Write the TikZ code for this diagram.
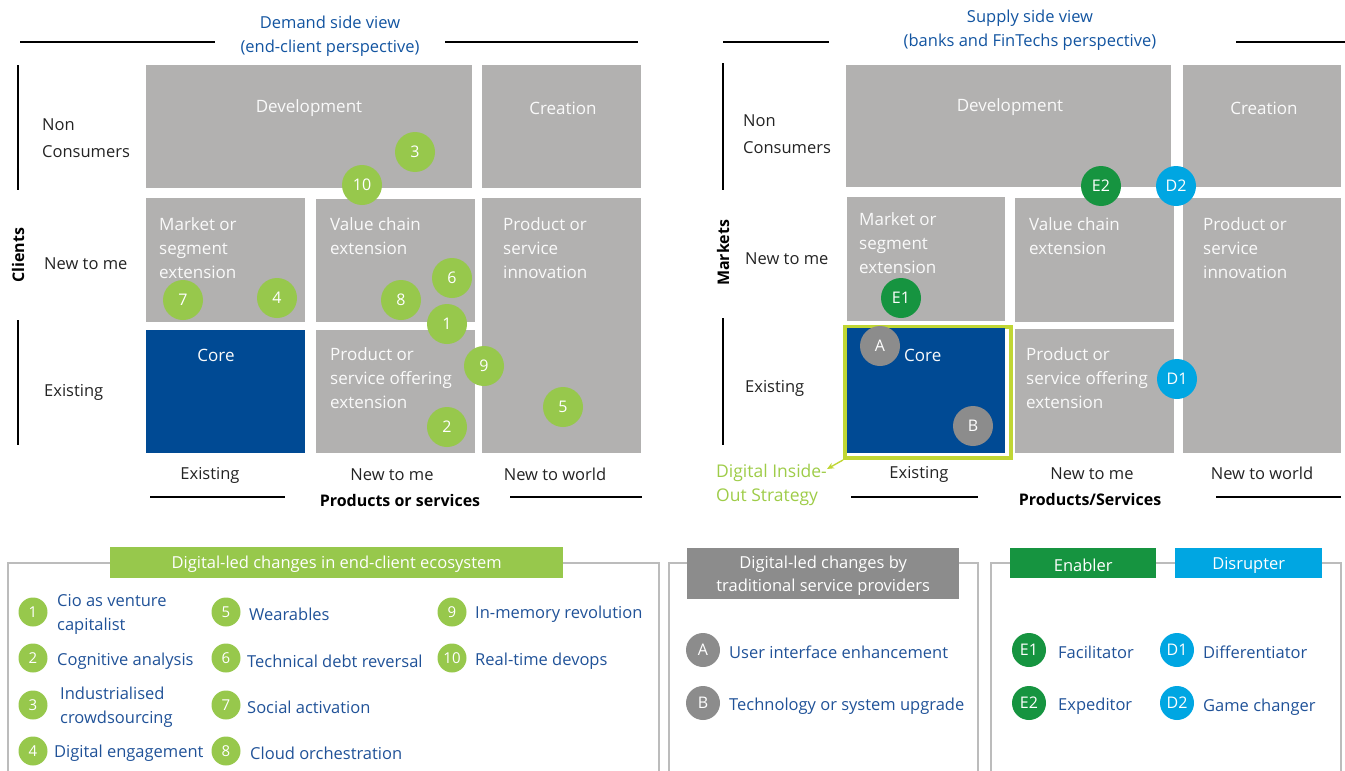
\documentclass[tikz,border=0pt]{standalone}
\usepackage{fontspec}
\setmainfont{Open Sans}
\usetikzlibrary{arrows.meta}
\definecolor{boxgray}{RGB}{178,177,176}
\definecolor{coreblue}{RGB}{0,74,148}
\definecolor{lime}{RGB}{151,200,76}
\definecolor{egreen}{RGB}{22,148,64}
\definecolor{dcyan}{RGB}{0,166,226}
\definecolor{agray}{RGB}{140,140,140}
\definecolor{titleblue}{RGB}{18,84,160}
\definecolor{legblue}{RGB}{32,82,152}
\definecolor{ygreen}{RGB}{192,214,52}
\definecolor{diotext}{RGB}{158,204,72}
\definecolor{framegray}{RGB}{188,188,188}
\definecolor{darktext}{RGB}{35,35,35}
\definecolor{celltext}{RGB}{250,250,250}
\begin{document}
\begin{tikzpicture}[x=1pt,y=-1pt,
  cell/.style={fill=boxgray, draw=none, inner sep=0, outer sep=0, anchor=north west},
  corecell/.style={cell, fill=coreblue},
  ctext/.style={text=celltext, font=\fontsize{17}{24}\selectfont, align=left, inner sep=0, anchor=north west, yshift=-2pt},
  ctitle/.style={text=celltext, font=\fontsize{17}{24}\selectfont, inner sep=0, yshift=-2pt},
  rowlab/.style={text=darktext, font=\fontsize{16.5}{27}\selectfont, align=left, inner sep=0, yshift=-2pt},
  collab/.style={text=darktext, font=\fontsize{16.5}{20}\selectfont, inner sep=0, yshift=-2pt},
  axislab/.style={text=black, font=\fontsize{16}{20}\selectfont\bfseries, inner sep=0},
  axisline/.style={draw=black, line width=1.3},
  viewtitle/.style={text=titleblue, font=\fontsize{16.5}{24}\selectfont, align=center, inner sep=0, yshift=-2pt},
  bigdot/.style={circle, minimum size=40, inner sep=0, text=white, font=\fontsize{16}{18}\selectfont},
  limedot/.style={bigdot, fill=lime},
  edot/.style={bigdot, fill=egreen},
  ddot/.style={bigdot, fill=dcyan},
  adot/.style={bigdot, fill=agray},
  legdot/.style={circle, minimum size=29, inner sep=0, fill=lime, text=white, font=\fontsize{15}{17}\selectfont},
  legdotb/.style={circle, minimum size=34, inner sep=0, text=white, font=\fontsize{16}{18}\selectfont},
  legtext/.style={text=legblue, font=\fontsize{16.5}{24}\selectfont, align=left, inner sep=0, anchor=west, yshift=-2pt},
  frame/.style={draw=framegray, line width=1.6},
  header/.style={inner sep=0, anchor=north west},
  headtext/.style={text=white, font=\fontsize{16.5}{23}\selectfont, align=center, inner sep=0, yshift=-2pt}
]
\useasboundingbox (0,0) rectangle (1345,771);

% ================= LEFT PANEL =================
\node[viewtitle] (t1) at (330,34) {Demand side view\\(end-client perspective)};
\draw[axisline] (20,42) -- (215,42);
\draw[axisline] (445,42) -- (638,42);

\node[cell, minimum width=326, minimum height=123] (dev1) at (146,65) {};
\node[cell, minimum width=159, minimum height=123] (cre1) at (482,65) {};
\node[cell, minimum width=159, minimum height=124] (mkt1) at (146,198) {};
\node[cell, minimum width=159, minimum height=123] (val1) at (316,199) {};
\node[cell, minimum width=159, minimum height=255] (inn1) at (482,198) {};
\node[corecell, minimum width=159, minimum height=123] (core1) at (146,330) {};
\node[cell, minimum width=159, minimum height=123] (off1) at (316,330) {};

\node[ctitle] (dev1t) at (309,106) {Development};
\node[ctitle] (cre1t) at (563,106) {Creation};
\node[ctext] (mkt1t) at (159,215) {Market or\\segment\\extension};
\node[ctext] (val1t) at (330,215) {Value chain\\extension};
\node[ctext] (inn1t) at (503,215) {Product or\\service\\innovation};
\node[ctitle] (core1t) at (216,353) {Core};
\node[ctext] (off1t) at (330,345) {Product or\\service offering\\extension};

\draw[axisline] (18,65) -- (18,190);
\draw[axisline] (18,320) -- (18,445);
\node[axislab, rotate=90] (cl) at (18,255) {Clients};
\node[rowlab, anchor=north west] (r1a) at (42,117) {Non\\Consumers};
\node[rowlab, anchor=west] (r1b) at (44,262) {New to me};
\node[rowlab, anchor=west] (r1c) at (44,390) {Existing};

\node[collab] (c1a) at (210,473) {Existing};
\node[collab] (c1b) at (392,473) {New to me};
\node[collab] (c1c) at (555,472) {New to world};
\node[axislab] (ps1) at (400,500) {Products or services};
\draw[axisline] (150,497) -- (285,497);
\draw[axisline] (510,497) -- (642,497);

\node[limedot] (n3) at (415,152) {3};
\node[limedot] (n10) at (362,185) {10};
\node[limedot] (n7) at (183,300) {7};
\node[limedot] (n4) at (277,298) {4};
\node[limedot] (n6) at (452,278) {6};
\node[limedot] (n8) at (401,300) {8};
\node[limedot] (n1) at (447,324) {1};
\node[limedot] (n9) at (484,366) {9};
\node[limedot] (n2) at (447,427) {2};
\node[limedot] (n5) at (563,407) {5};

% ================= RIGHT PANEL =================
\node[viewtitle] (t2) at (1030,28) {Supply side view\\(banks and FinTechs perspective)};
\draw[axisline] (723,42) -- (829,42);
\draw[axisline] (1236,42) -- (1345,42);

\node[cell, minimum width=325, minimum height=122] (dev2) at (846,65) {};
\node[cell, minimum width=158, minimum height=122] (cre2) at (1183,65) {};
\node[cell, minimum width=158, minimum height=124] (mkt2) at (847,197) {};
\node[cell, minimum width=159, minimum height=124] (val2) at (1015,198) {};
\node[cell, minimum width=158, minimum height=255] (inn2) at (1183,198) {};
\node[draw=ygreen, line width=4, inner sep=0, minimum width=166, minimum height=131, anchor=north west] (io) at (843,325) {};
\node[corecell, minimum width=158, minimum height=125] (core2) at (847,328) {};
\node[cell, minimum width=159, minimum height=124] (off2) at (1015,329) {};

\node[ctitle] (dev2t) at (1010,105) {Development};
\node[ctitle] (cre2t) at (1264,106) {Creation};
\node[ctext] (mkt2t) at (859,210) {Market or\\segment\\extension};
\node[ctext] (val2t) at (1029,215) {Value chain\\extension};
\node[ctext] (inn2t) at (1203,215) {Product or\\service\\innovation};
\node[ctitle, anchor=west] (core2t) at (904,353) {Core};
\node[ctext] (off2t) at (1026,345) {Product or\\service offering\\extension};

\draw[axisline] (723,63) -- (723,190);
\draw[axisline] (723,318) -- (723,445);
\node[axislab, rotate=90] (mk) at (723,253) {Markets};
\node[rowlab, anchor=north west] (r2a) at (743,113) {Non\\Consumers};
\node[rowlab, anchor=west] (r2b) at (745,257) {New to me};
\node[rowlab, anchor=west] (r2c) at (745,386) {Existing};

\node[collab] (c2a) at (919,472) {Existing};
\node[collab] (c2b) at (1092,472) {New to me};
\node[collab] (c2c) at (1262,471) {New to world};
\node[axislab] (ps2) at (1090,499) {Products/Services};
\draw[axisline] (851,497) -- (978,497);
\draw[axisline] (1216,497) -- (1341,497);

\node[text=diotext, font=\fontsize{17.5}{24}\selectfont, align=left, inner sep=0, anchor=north west] (dio) at (716,464) {Digital Inside-\\Out Strategy};
\coordinate (dioend) at (827,469);
\draw[draw=ygreen, line width=1.4, -{Stealth[length=7pt,width=6pt]}] (io.south west) -- (dioend);

\node[edot] (ne2) at (1101,186) {E2};
\node[ddot] (nd2) at (1176,186) {D2};
\node[edot] (ne1) at (901,298) {E1};
\node[adot] (na) at (880,346) {A};
\node[adot] (nb) at (973,426) {B};
\node[ddot] (nd1) at (1177,379) {D1};

% ================= LEGENDS =================
\draw[frame] (8,771) -- (8,563) -- (659,563) -- (659,771);
\draw[frame] (669,771) -- (669,563) -- (978,563) -- (978,771);
\draw[frame] (991,771) -- (991,563) -- (1341,563) -- (1341,771);

\node[header, fill=lime, minimum width=453, minimum height=31] (h1) at (110,547) {};
\node[headtext] (h1t) at (h1.center) {Digital-led changes in end-client ecosystem};
\node[header, fill=agray, minimum width=272, minimum height=51] (h2) at (687,548) {};
\node[headtext] (h2t) at (h2.center) {Digital-led changes by\\traditional service providers};
\node[header, fill=egreen, minimum width=146, minimum height=30] (h3) at (1010,548) {};
\node[headtext] (h3t) at (h3.center) {Enabler};
\node[header, fill=dcyan, minimum width=147, minimum height=30] (h4) at (1175,548) {};
\node[headtext] (h4t) at (h4.center) {Disrupter};

\node[legdot] (l1) at (33,612) {1};
\node[legdot] (l2) at (33,658) {2};
\node[legdot] (l3) at (33,705) {3};
\node[legdot] (l4) at (33,751) {4};
\node[legdot] (l5) at (226,612) {5};
\node[legdot] (l6) at (226,658) {6};
\node[legdot] (l7) at (226,705) {7};
\node[legdot] (l8) at (226,751) {8};
\node[legdot] (l9) at (452,612) {9};
\node[legdot] (l10) at (452,658) {10};

\node[legtext] (lt1) at (57,612) {Cio as venture\\capitalist};
\node[legtext] (lt2) at (57,659) {Cognitive analysis};
\node[legtext] (lt3) at (60,705) {Industrialised\\crowdsourcing};
\node[legtext] (lt4) at (54,751) {Digital engagement};
\node[legtext] (lt5) at (249,612) {Wearables};
\node[legtext] (lt6) at (247,659) {Technical debt reversal};
\node[legtext] (lt7) at (247,705) {Social activation};
\node[legtext] (lt8) at (250,751) {Cloud orchestration};
\node[legtext] (lt9) at (475,612) {In-memory revolution};
\node[legtext] (lt10) at (475,659) {Real-time devops};

\node[legdotb, fill=agray] (la) at (703,650) {A};
\node[legdotb, fill=agray] (lb) at (703,703) {B};
\node[legtext] (lta) at (729,650) {User interface enhancement};
\node[legtext] (ltb) at (729,704) {Technology or system upgrade};

\node[legdotb, fill=egreen] (le1) at (1029,650) {E1};
\node[legdotb, fill=egreen] (le2) at (1029,703) {E2};
\node[legdotb, fill=dcyan] (ld1) at (1177,650) {D1};
\node[legdotb, fill=dcyan] (ld2) at (1177,703) {D2};
\node[legtext] (lte1) at (1058,650) {Facilitator};
\node[legtext] (lte2) at (1058,704) {Expeditor};
\node[legtext] (ltd1) at (1203,650) {Differentiator};
\node[legtext] (ltd2) at (1203,705) {Game changer};
\end{tikzpicture}
\end{document}
